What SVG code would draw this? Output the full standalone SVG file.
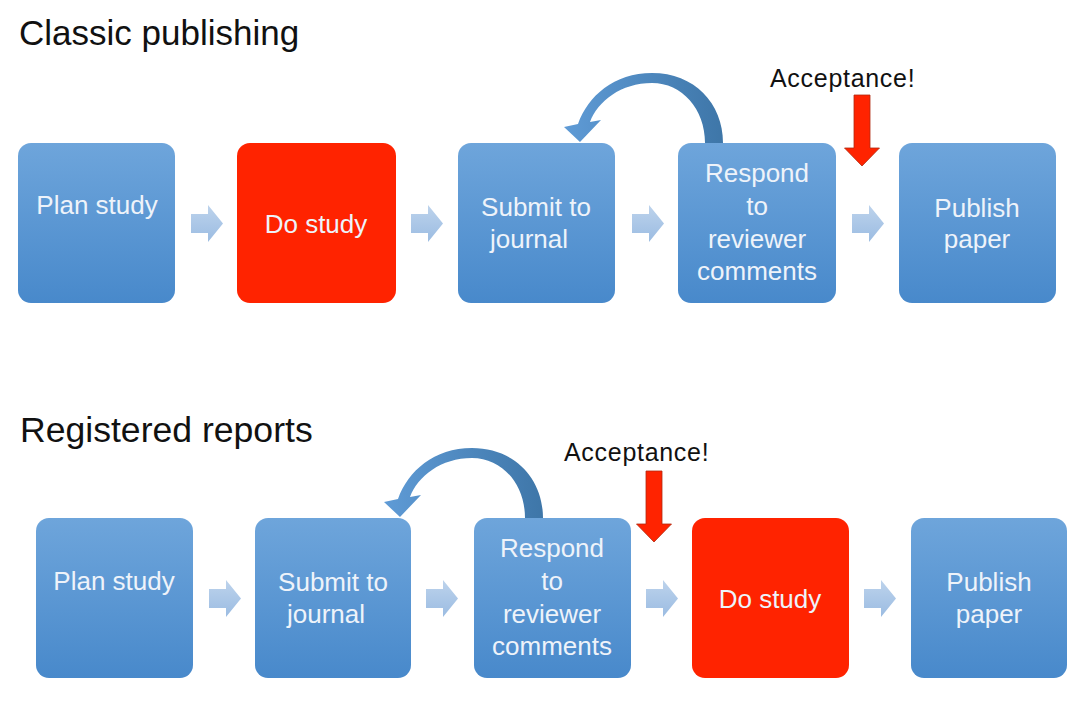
<svg xmlns="http://www.w3.org/2000/svg" xmlns:xlink="http://www.w3.org/1999/xlink" width="1080" height="707" viewBox="0 0 1080 707">
<defs>
<linearGradient id="blueG" x1="0" y1="0" x2="0" y2="1">
<stop offset="0" stop-color="#6ea5db"/>
<stop offset="1" stop-color="#4889cb"/>
</linearGradient>
<linearGradient id="chevG" x1="0" y1="0" x2="0" y2="1">
<stop offset="0" stop-color="#bdd3ec"/>
<stop offset="1" stop-color="#9bbce2"/>
</linearGradient>
<linearGradient id="curveG" x1="0" y1="0" x2="1" y2="0">
<stop offset="0" stop-color="#5f9bd6"/>
<stop offset="1" stop-color="#3e76a8"/>
</linearGradient>
<path id="chev" d="M0,9 H17 V0 L32,18.5 L17,37 V28 H0 Z"/>
<path id="curve" d="M723,143 C723,103 694,73 652,73 C614,73 588,96 578,124 L564,127 L580,142 L601,120 L590,122 C598,101 621,83 652,83 C682,83 705,109 705,143 Z"/>
<path id="redArrow" d="M-8,0 H8 V53 H17.5 L0,71 L-17.5,53 H-8 Z"/>
</defs>
<style>
.box{fill:url(#blueG);}
.red{fill:#ff2300;}
.lbl{font-family:"Liberation Sans",Arial,sans-serif;font-size:26px;fill:#eef3fa;text-anchor:middle;}
.title{font-family:"Liberation Sans",Arial,sans-serif;font-size:35px;fill:#111;}
.acc{font-family:"Liberation Sans",Arial,sans-serif;font-size:25px;fill:#111;letter-spacing:0.7px;}
.chev{fill:url(#chevG);}
.curve{fill:url(#curveG);}
.ra{fill:#ff2300;stroke:#b02a10;stroke-width:0.8;}
</style>
<rect width="1080" height="707" fill="#ffffff"/>

<text class="title" x="19" y="45">Classic publishing</text>
<text class="title" x="20" y="442" style="font-size:35.6px">Registered reports</text>

<g id="top-plan"><rect class="box" x="18" y="143" width="157" height="160" rx="13"/><text class="lbl" x="97" y="214">Plan study</text></g>
<g id="top-do"><rect class="red" x="237" y="143" width="159" height="160" rx="13"/><text class="lbl" x="316" y="233">Do study</text></g>
<g id="top-submit"><rect class="box" x="458" y="143" width="157" height="160" rx="13"/><text class="lbl" x="536" y="216">Submit to</text><text class="lbl" x="529" y="248">journal</text></g>
<g id="top-respond"><rect class="box" x="678" y="143" width="158" height="160" rx="13"/><text class="lbl" x="757" y="182">Respond</text><text class="lbl" x="757" y="215">to</text><text class="lbl" x="757" y="248">reviewer</text><text class="lbl" x="757" y="280">comments</text></g>
<g id="top-publish"><rect class="box" x="899" y="143" width="157" height="160" rx="13"/><text class="lbl" x="977" y="217">Publish</text><text class="lbl" x="977" y="248">paper</text></g>
<g id="top-acceptance"><text class="acc" x="770" y="87">Acceptance!</text></g>

<g id="bot-plan"><rect class="box" x="36" y="518" width="157" height="160" rx="13"/><text class="lbl" x="114" y="590">Plan study</text></g>
<g id="bot-submit"><rect class="box" x="255" y="518" width="156" height="160" rx="13"/><text class="lbl" x="333" y="591">Submit to</text><text class="lbl" x="326" y="623">journal</text></g>
<g id="bot-respond"><rect class="box" x="474" y="518" width="157" height="160" rx="13"/><text class="lbl" x="552" y="557">Respond</text><text class="lbl" x="552" y="590">to</text><text class="lbl" x="552" y="623">reviewer</text><text class="lbl" x="552" y="655">comments</text></g>
<g id="bot-do"><rect class="red" x="692" y="518" width="157" height="160" rx="13"/><text class="lbl" x="770" y="608">Do study</text></g>
<g id="bot-publish"><rect class="box" x="911" y="518" width="156" height="160" rx="13"/><text class="lbl" x="989" y="591">Publish</text><text class="lbl" x="989" y="623">paper</text></g>
<g id="bot-acceptance"><text class="acc" x="564" y="461">Acceptance!</text></g>

<g id="connectors">
<use href="#chev" class="chev" x="191" y="205"/>
<use href="#chev" class="chev" x="411" y="205"/>
<use href="#chev" class="chev" x="632" y="205"/>
<use href="#chev" class="chev" x="852" y="205"/>
<use href="#chev" class="chev" x="209" y="580"/>
<use href="#chev" class="chev" x="426" y="580"/>
<use href="#chev" class="chev" x="646" y="580"/>
<use href="#chev" class="chev" x="864" y="580"/>
<use href="#curve" class="curve"/>
<use href="#curve" class="curve" transform="translate(-180,375)"/>
<use href="#redArrow" class="ra" transform="translate(862,95)"/>
<use href="#redArrow" class="ra" transform="translate(654,471)"/>
</g>
</svg>
